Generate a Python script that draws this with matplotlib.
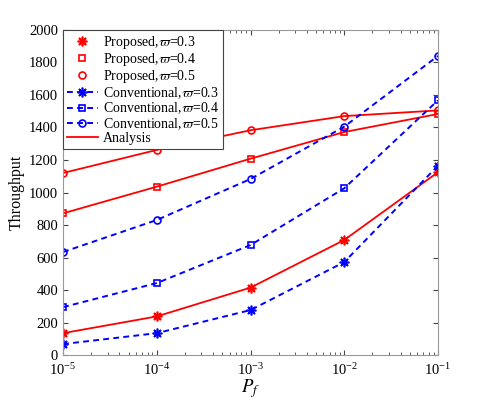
import numpy as np
import matplotlib
matplotlib.use("Agg")
import matplotlib.pyplot as plt
from matplotlib.lines import Line2D

plt.rcParams["font.family"] = ["Liberation Serif", "DejaVu Serif"]
plt.rcParams["mathtext.fontset"] = "stix"

pf = [1e-5, 1e-4, 1e-3, 1e-2, 1e-1]

prop_03 = [135, 238, 415, 708, 1125]
prop_04 = [872, 1036, 1208, 1372, 1483]
prop_05 = [1120, 1262, 1383, 1470, 1505]

conv_03 = [68, 135, 277, 572, 1165]
conv_04 = [295, 443, 677, 1026, 1567]
conv_05 = [634, 831, 1083, 1405, 1840]

fig = plt.figure(figsize=(4.85, 3.99), dpi=100)
ax = fig.add_axes([0.130, 0.110, 0.773, 0.815])

red = "#ff0000"
blue = "#0000ff"
star = (8, 2, 0)
dash = (0, (3.0, 2.2))

# analysis curves (red solid) with proposed markers
for vals, mk in [(prop_03, star), (prop_04, "s"), (prop_05, "o")]:
    ax.plot(pf, vals, color=red, lw=1.3)
    ax.plot(pf, vals, ls="none", marker=mk, mfc="none", mec=red,
            ms=7 if mk == star else 5, mew=1.2)

# conventional (blue dashed)
for vals, mk in [(conv_03, star), (conv_04, "s"), (conv_05, "o")]:
    ax.plot(pf, vals, color=blue, ls=dash, lw=1.4, marker=mk,
            mfc="none", mec=blue, ms=7 if mk == star else 5, mew=1.2)

ax.set_xscale("log")
ax.set_xlim(1e-5, 1e-1)
ax.set_ylim(0, 2000)
ax.set_yticks(np.arange(0, 2001, 200))
ax.tick_params(which="both", direction="in", top=True, right=True,
               labelsize=10.5, color="#444444")
ax.tick_params(axis="x", pad=5)
for s in ax.spines.values():
    s.set_color("#999999")
ax.set_xlabel("$P_f$", fontsize=13.5)
ax.xaxis.set_label_coords(0.5, -0.068)
ax.set_ylabel("Throughput", fontsize=11.5, labelpad=3)

handles = [
    Line2D([], [], ls="none", marker=star, mfc="none", mec=red, ms=7, mew=1.2),
    Line2D([], [], ls="none", marker="s", mfc="none", mec=red, ms=5, mew=1.2),
    Line2D([], [], ls="none", marker="o", mfc="none", mec=red, ms=5, mew=1.2),
    Line2D([], [], color=blue, ls=dash, marker=star, ms=7, lw=1.4, mew=1.2),
    Line2D([], [], color=blue, ls=dash, marker="s", mfc="none", ms=5, lw=1.4, mew=1.2),
    Line2D([], [], color=blue, ls=dash, marker="o", mfc="none", ms=5, lw=1.4, mew=1.2),
    Line2D([], [], color=red, lw=1.3),
]
labels = [
    r"Proposed,$\varpi$=0.3",
    r"Proposed,$\varpi$=0.4",
    r"Proposed,$\varpi$=0.5",
    r"Conventional,$\varpi$=0.3",
    r"Conventional,$\varpi$=0.4",
    r"Conventional,$\varpi$=0.5",
    "Analysis",
]
leg = ax.legend(handles, labels, loc="upper left", fontsize=10, fancybox=False,
                framealpha=1, edgecolor="#444444", borderpad=0.3,
                labelspacing=0.0, handlelength=2.2, handletextpad=0.35,
                borderaxespad=0)
leg.get_frame().set_linewidth(0.8)

fig.savefig("out.png", dpi=100)
